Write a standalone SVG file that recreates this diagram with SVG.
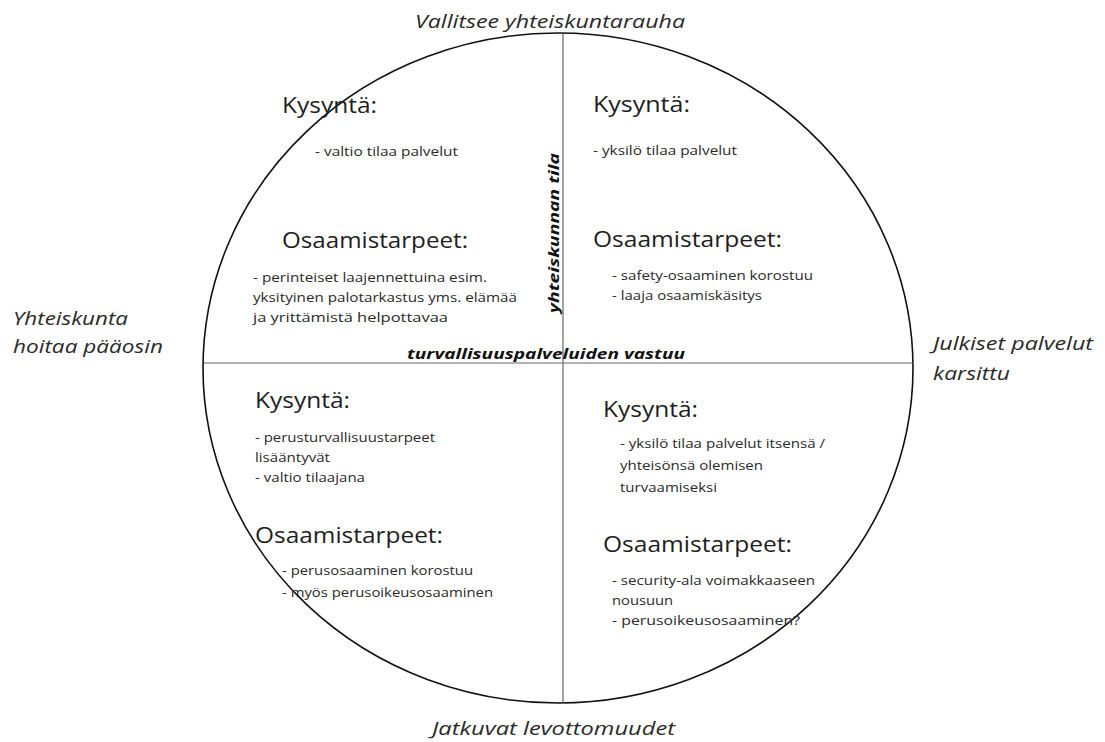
<svg xmlns="http://www.w3.org/2000/svg" width="1105" height="742" viewBox="0 0 1105 742">
<style>
text{font-family:"Open Sans","Liberation Sans",sans-serif;fill:#1e1e1e}
.h{font-size:22px}
.b{font-size:12.5px;fill:#2a2a2a}
.o{font-size:19px;font-style:italic;fill:#2a2a2a}
.a{font-size:15px;font-style:italic;font-weight:bold;fill:#111}
.circ{fill:none;stroke:#111;stroke-width:1.6}
.ax{stroke:#666;stroke-width:1.2}
</style>
<rect width="1105" height="742" fill="#fff"/>
<g id="connectors">
<ellipse class="circ" cx="558" cy="368" rx="355" ry="335"/>
<line class="ax" x1="563" y1="34" x2="563" y2="703"/>
<line class="ax" x1="204" y1="363" x2="913" y2="363"/>
</g>
<g id="axis-labels">
<text class="a" x="407" y="359" textLength="278" lengthAdjust="spacingAndGlyphs">turvallisuuspalveluiden vastuu</text>
<text class="a" transform="translate(559,233) rotate(-90)" text-anchor="middle" textLength="160" lengthAdjust="spacingAndGlyphs">yhteiskunnan tila</text>
</g>
<g id="outer-labels">
<text class="o" x="415" y="28" textLength="270" lengthAdjust="spacingAndGlyphs">Vallitsee yhteiskuntarauha</text>
<text class="o" x="432" y="735" textLength="243" lengthAdjust="spacingAndGlyphs">Jatkuvat levottomuudet</text>
<text class="o" x="13" y="325" textLength="115" lengthAdjust="spacingAndGlyphs">Yhteiskunta</text>
<text class="o" x="13" y="353" textLength="150" lengthAdjust="spacingAndGlyphs">hoitaa pääosin</text>
<text class="o" x="933" y="350" textLength="160" lengthAdjust="spacingAndGlyphs">Julkiset palvelut</text>
<text class="o" x="933" y="380" textLength="77" lengthAdjust="spacingAndGlyphs">karsittu</text>
</g>
<g id="q-top-left">
<text class="h" x="282" y="113" textLength="95" lengthAdjust="spacingAndGlyphs">Kysyntä:</text>
<text class="b" x="315" y="156" textLength="143" lengthAdjust="spacingAndGlyphs">- valtio tilaa palvelut</text>
<text class="h" x="282" y="248" textLength="186" lengthAdjust="spacingAndGlyphs">Osaamistarpeet:</text>
<text class="b" x="253" y="282" textLength="234" lengthAdjust="spacingAndGlyphs">- perinteiset laajennettuina esim.</text>
<text class="b" x="253" y="302" textLength="264" lengthAdjust="spacingAndGlyphs">yksityinen palotarkastus yms. elämää</text>
<text class="b" x="253" y="322" textLength="195" lengthAdjust="spacingAndGlyphs">ja yrittämistä helpottavaa</text>
</g>
<g id="q-top-right">
<text class="h" x="593" y="112" textLength="97" lengthAdjust="spacingAndGlyphs">Kysyntä:</text>
<text class="b" x="593" y="155" textLength="144" lengthAdjust="spacingAndGlyphs">- yksilö tilaa palvelut</text>
<text class="h" x="593" y="247" textLength="189" lengthAdjust="spacingAndGlyphs">Osaamistarpeet:</text>
<text class="b" x="612" y="280" textLength="201" lengthAdjust="spacingAndGlyphs">- safety-osaaminen korostuu</text>
<text class="b" x="612" y="300" textLength="150" lengthAdjust="spacingAndGlyphs">- laaja osaamiskäsitys</text>
</g>
<g id="q-bottom-left">
<text class="h" x="255" y="408" textLength="95" lengthAdjust="spacingAndGlyphs">Kysyntä:</text>
<text class="b" x="255" y="442" textLength="180" lengthAdjust="spacingAndGlyphs">- perusturvallisuustarpeet</text>
<text class="b" x="255" y="462" textLength="75" lengthAdjust="spacingAndGlyphs">lisääntyvät</text>
<text class="b" x="255" y="482" textLength="110" lengthAdjust="spacingAndGlyphs">- valtio tilaajana</text>
<text class="h" x="255" y="543" textLength="188" lengthAdjust="spacingAndGlyphs">Osaamistarpeet:</text>
<text class="b" x="282" y="575" textLength="191" lengthAdjust="spacingAndGlyphs">- perusosaaminen korostuu</text>
<text class="b" x="282" y="597" textLength="211" lengthAdjust="spacingAndGlyphs">- myös perusoikeusosaaminen</text>
</g>
<g id="q-bottom-right">
<text class="h" x="603" y="417" textLength="95" lengthAdjust="spacingAndGlyphs">Kysyntä:</text>
<text class="b" x="620" y="448" textLength="205" lengthAdjust="spacingAndGlyphs">- yksilö tilaa palvelut itsensä /</text>
<text class="b" x="620" y="470" textLength="143" lengthAdjust="spacingAndGlyphs">yhteisönsä olemisen</text>
<text class="b" x="620" y="492" textLength="97" lengthAdjust="spacingAndGlyphs">turvaamiseksi</text>
<text class="h" x="603" y="552" textLength="189" lengthAdjust="spacingAndGlyphs">Osaamistarpeet:</text>
<text class="b" x="612" y="585" textLength="203" lengthAdjust="spacingAndGlyphs">- security-ala voimakkaaseen</text>
<text class="b" x="612" y="605" textLength="61" lengthAdjust="spacingAndGlyphs">nousuun</text>
<text class="b" x="612" y="625" textLength="188" lengthAdjust="spacingAndGlyphs">- perusoikeusosaaminen?</text>
</g>
</svg>
